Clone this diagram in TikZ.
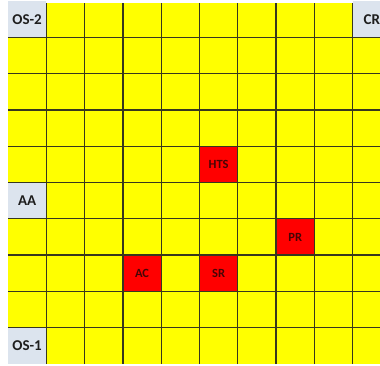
\documentclass[tikz,border=0pt]{standalone}
\usepackage{fontspec}
\setmainfont{Carlito}
\definecolor{cellyellow}{RGB}{255,255,0}
\definecolor{cellgray}{RGB}{220,228,238}
\definecolor{cellred}{RGB}{255,0,0}
\definecolor{gridcol}{RGB}{55,55,30}
\definecolor{graytext}{RGB}{30,30,30}
\definecolor{redtext}{RGB}{70,5,5}
\begin{document}
\begin{tikzpicture}[x=1pt,y=-1pt,
  cellbox/.style={draw=none,inner sep=0pt,minimum width=38.3pt,minimum height=36.3pt,font=\bfseries},
  siteA/.style={cellbox,fill=cellgray,text=graytext,font=\fontsize{15}{15}\selectfont\bfseries},
  siteB/.style={cellbox,fill=cellred,text=redtext,font=\fontsize{12.5}{12.5}\selectfont\bfseries},
  gridline/.style={draw=gridcol,line width=1.3pt}]
\useasboundingbox (0,0) rectangle (380,365);
\begin{scope}
\clip (0,0) rectangle (380,365);
\fill[cellyellow] (8,3) rectangle (391,364);
% labelled cells (column i, row j): centre x = 8+38.3(i+0.5), y = 1+36.3(j+0.5)
\node[siteA] (os2) at (27.15,19.15) {OS-2};
\node[siteA] (cr) at (371.85,19.15) {CR};
\node[siteA] (aa) at (27.15,200.65) {AA};
\node[siteA] (os1) at (27.15,345.85) {OS-1};
\node[siteB] (hts) at (218.65,164.35) {HTS};
\node[siteB] (pr) at (295.25,237.05) {PR};
\node[siteB] (ac) at (142.05,273.25) {AC};
\node[siteB] (sr) at (218.65,273.25) {SR};
% grid
\foreach \i in {1,...,9} {
  \draw[gridline] ({8+38.3*\i},3) -- ({8+38.3*\i},364);
  \draw[gridline] (8,{1+36.3*\i}) -- (391,{1+36.3*\i});
}
\end{scope}
\end{tikzpicture}
\end{document}
